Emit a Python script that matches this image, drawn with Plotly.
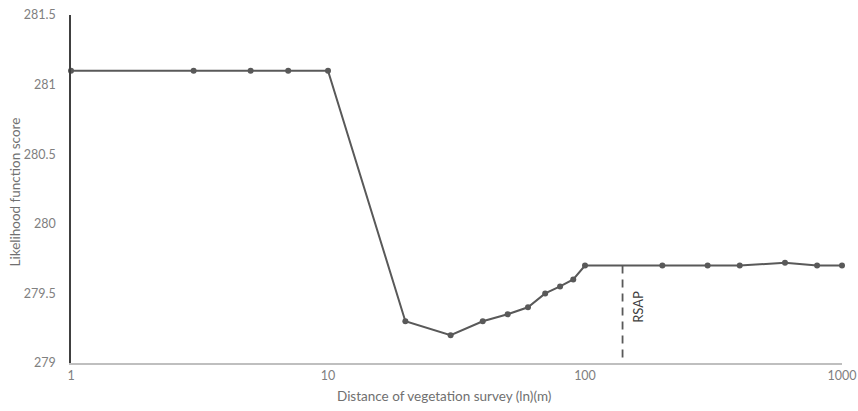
import plotly.graph_objects as go

distance = [1, 3, 5, 7, 10, 20, 30, 40, 50, 60, 70, 80, 90, 100, 200, 300, 400, 600, 800, 1000]
score = [281.1, 281.1, 281.1, 281.1, 281.1, 279.3, 279.2, 279.3, 279.35, 279.4, 279.5, 279.55,
         279.6, 279.7, 279.7, 279.7, 279.7, 279.72, 279.7, 279.7]
rsap_x = 140
rsap_y = [279.04, 279.7]
x_ticks = [1, 10, 100, 1000]
y_ticks = [279, 279.5, 280, 280.5, 281, 281.5]

font = "Lato, 'Open Sans', sans-serif"
gray = "#595959"

fig = go.Figure()
fig.add_trace(go.Scatter(
    x=distance, y=score, mode="lines+markers",
    line=dict(color=gray, width=2),
    marker=dict(color=gray, size=6),
    showlegend=False, cliponaxis=False,
))
fig.add_trace(go.Scatter(
    x=[rsap_x, rsap_x], y=rsap_y, mode="lines",
    line=dict(color=gray, width=1.8, dash="8px,6px"),
    showlegend=False,
))
fig.add_annotation(
    x=2.146, xref="x", y=279.4, yref="y", text="RSAP", textangle=-90, xshift=6,
    showarrow=False, font=dict(family=font, size=13, color="#404040"), xanchor="left", yanchor="middle",
)
fig.add_annotation(
    x=0.484, xref="paper", y=-0.095, yref="paper", text="Distance of vegetation survey (ln)(m)",
    showarrow=False, font=dict(family=font, size=13.5, color="#707070"), xanchor="center", yanchor="middle",
)
fig.add_annotation(
    x=-0.0726, xref="paper", y=0.49, yref="paper", text="Likelihood function score", textangle=-90,
    showarrow=False, font=dict(family=font, size=13.5, color="#707070"), xanchor="center", yanchor="middle",
)

fig.update_layout(
    width=858, height=411,
    margin=dict(l=71, r=16, t=15, b=48),
    paper_bgcolor="white", plot_bgcolor="white",
    font=dict(family=font, size=12, color="#808080"),
)
fig.update_xaxes(
    type="log", range=[0, 3], tickvals=x_ticks, ticktext=[str(v) for v in x_ticks],
    showgrid=False, zeroline=False, showline=True, linecolor="#bfbfbf", linewidth=1.5,
    ticks="", automargin=False, ticklabelstandoff=0,
    tickfont=dict(family=font, size=12.5, color="#808080"),
)
fig.update_yaxes(
    range=[279, 281.5], tickvals=y_ticks, ticktext=["279", "279.5", "280", "280.5", "281", "281.5"],
    showgrid=False, zeroline=False, showline=True, linecolor="#404040", linewidth=1.5,
    ticks="", automargin=False, ticklabelstandoff=11,
    tickfont=dict(family=font, size=12.5, color="#808080"),
)
fig.write_html("out.html", config={"displayModeBar": False},
               post_script="document.body.style.margin='0';document.body.style.overflow='hidden';")
